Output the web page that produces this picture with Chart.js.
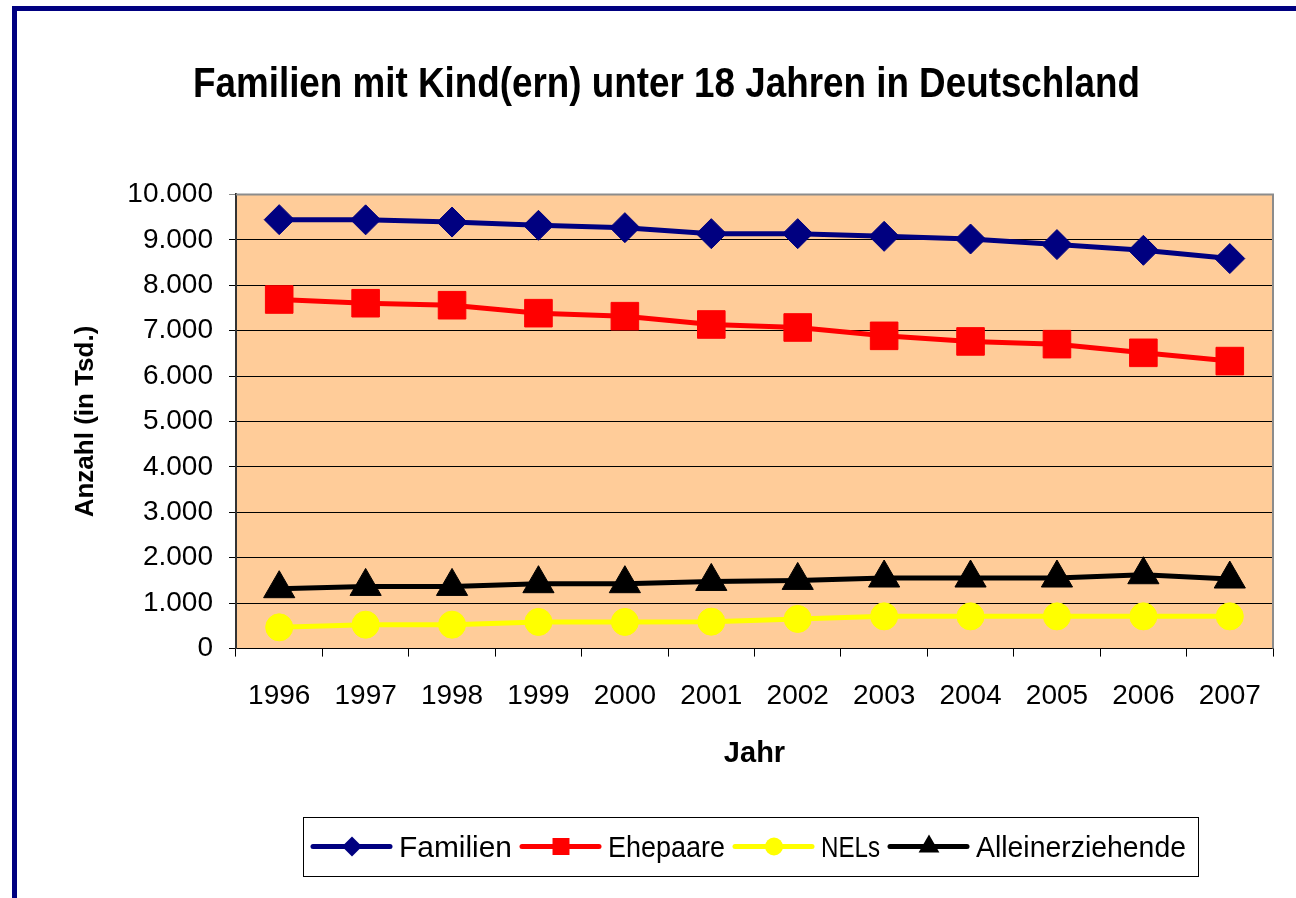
<!DOCTYPE html>
<html lang="de">
<head>
<meta charset="utf-8">
<title>Familien mit Kind(ern) unter 18 Jahren in Deutschland</title>
<script src="https://cdn.jsdelivr.net/npm/chart.js@4/dist/chart.umd.min.js"></script>
<style>
  html, body { margin: 0; padding: 0; background: #fff; overflow: hidden; }
  #frame {
    position: absolute; left: 12px; top: 6px;
    width: 1400px; height: 1000px;
    border: 5px solid #000080; box-sizing: border-box;
  }
  #chart { position: absolute; left: 0; top: 0; }
</style>
</head>
<body>
<div id="frame"></div>
<canvas id="chart" width="1296" height="898"></canvas>
<script>
'use strict';

// ── DATA (Tsd.) ──
const YEARS    = ['1996', '1997', '1998', '1999', '2000', '2001', '2002', '2003', '2004', '2005', '2006', '2007'];
const FAMILIEN = [9444, 9440, 9391, 9319, 9268, 9136, 9136, 9077, 9018, 8895, 8769, 8587];
const EHEPAARE = [7686, 7604, 7560, 7385, 7319, 7136, 7070, 6886, 6763, 6703, 6512, 6330];
const NELS     = [468, 527, 527, 587, 587, 593, 653, 710, 710, 710, 710, 710];
const ALLEIN   = [1319, 1369, 1369, 1429, 1429, 1479, 1501, 1554, 1554, 1554, 1626, 1532];

const Y_MIN  = 0;
const Y_MAX  = 10000;
const Y_STEP = 1000;

const TITLE   = 'Familien mit Kind(ern) unter 18 Jahren in Deutschland';
const X_TITLE = 'Jahr';
const Y_TITLE = 'Anzahl (in Tsd.)';

// ── STYLE ──
const FONT = "'Liberation Sans', Arial, sans-serif";
const PLOT_BG = '#FFCC99';

const SERIES = [
  { label: 'Familien',         data: FAMILIEN, color: '#000080', style: 'rectRot',  radius: 15,   legendR: 10 },
  { label: 'Ehepaare',         data: EHEPAARE, color: '#FF0000', style: 'rect',     radius: 19.5, legendR: 12 },
  { label: 'NELs',             data: NELS,     color: '#FFFF00', style: 'circle',   radius: 13.5, legendR: 9 },
  { label: 'Alleinerziehende', data: ALLEIN,   color: '#000000', style: 'triangle', radius: 18,   legendR: 12 },
];

// layout (pixels)
const TITLE_SPAN    = { left: 193, right: 1140 };   // title is squeezed into this width
const LEGEND_BOX    = { x: 303, y: 817, w: 895, h: 59 };
const LEGEND_ITEM_X = [311, 520, 733, 888];

function fmtThousand(v) {
  return String(v).replace(/\B(?=(\d{3})+(?!\d))/g, '.');
}

function drawMarker(ctx, style, x, y, r) {
  ctx.beginPath();
  if (style === 'rectRot') {
    ctx.moveTo(x, y - r); ctx.lineTo(x + r, y); ctx.lineTo(x, y + r); ctx.lineTo(x - r, y);
  } else if (style === 'rect') {
    const s = r * Math.SQRT1_2;
    ctx.rect(x - s, y - s, 2 * s, 2 * s);
  } else if (style === 'circle') {
    ctx.arc(x, y, r, 0, Math.PI * 2);
  } else if (style === 'triangle') {
    ctx.moveTo(x, y - r); ctx.lineTo(x + r * 0.866, y + r / 2); ctx.lineTo(x - r * 0.866, y + r / 2);
  }
  ctx.closePath();
  ctx.fill();
}

// ── PLUGINS ──
const plotFrame = {
  id: 'plotFrame',
  afterLayout(chart) {
    // narrow the title box so the (condensed) title fits the original width
    const t = chart.titleBlock;
    if (t) {
      t.left  = TITLE_SPAN.left;
      t.right = TITLE_SPAN.right;
      t.width = TITLE_SPAN.right - TITLE_SPAN.left;
    }
  },
  beforeDraw(chart) {
    const { ctx, chartArea: a } = chart;
    ctx.save();
    ctx.fillStyle = PLOT_BG;
    ctx.fillRect(a.left, a.top, a.right - a.left, a.bottom - a.top);
    ctx.restore();
  },
  beforeDatasetsDraw(chart) {
    const { ctx, chartArea: a } = chart;
    ctx.save();
    ctx.strokeStyle = '#8c8c8c';
    ctx.lineWidth = 2;
    ctx.beginPath();
    ctx.moveTo(a.left, a.top);
    ctx.lineTo(a.right, a.top);
    ctx.lineTo(a.right, a.bottom);
    ctx.stroke();
    ctx.restore();
  }
};

const boxLegend = {
  id: 'boxLegend',
  afterDraw(chart) {
    const ctx = chart.ctx;
    const b = LEGEND_BOX;
    const cy = b.y + b.h / 2;
    ctx.save();
    ctx.strokeStyle = '#000';
    ctx.lineWidth = 1;
    ctx.strokeRect(b.x + 0.5, b.y + 0.5, b.w, b.h);

    ctx.font = '30px ' + FONT;
    ctx.textBaseline = 'middle';
    ctx.textAlign = 'left';
    SERIES.forEach((s, i) => {
      const x = LEGEND_ITEM_X[i];
      const next = i + 1 < LEGEND_ITEM_X.length ? LEGEND_ITEM_X[i + 1] - 8 : b.x + b.w - 12;
      ctx.strokeStyle = s.color;
      ctx.fillStyle = s.color;
      ctx.lineWidth = 5;
      ctx.lineCap = 'round';
      ctx.beginPath();
      ctx.moveTo(x + 2, cy);
      ctx.lineTo(x + 79, cy);
      ctx.stroke();
      drawMarker(ctx, s.style, x + 41, cy, s.legendR);
      ctx.fillStyle = '#000';
      ctx.fillText(s.label, x + 88, cy + 2, next - (x + 88));
    });
    ctx.restore();
  }
};

// ── CHART ──
const ctx = document.getElementById('chart').getContext('2d');

new Chart(ctx, {
  type: 'line',
  data: {
    labels: YEARS,
    datasets: SERIES.map(s => ({
      label: s.label,
      data: s.data,
      borderColor: s.color,
      backgroundColor: s.color,
      borderWidth: 5,
      pointStyle: s.style,
      pointRadius: s.radius,
      pointHoverRadius: s.radius,
      pointBackgroundColor: s.color,
      pointBorderColor: s.color,
      pointBorderWidth: 1,
      tension: 0,
      fill: false,
    }))
  },
  options: {
    responsive: false,
    animation: false,
    devicePixelRatio: 1,
    layout: { padding: { left: 60, right: 23, top: 0, bottom: 127 } },
    plugins: {
      legend: { display: false },
      tooltip: { enabled: false },
      title: {
        display: true,
        text: TITLE,
        color: '#000',
        font: { family: FONT, size: 42, weight: 'bold' },
        padding: { top: 60, bottom: 84 },
      },
    },
    scales: {
      x: {
        offset: true,
        grid: { display: true, drawOnChartArea: false, drawTicks: true, tickLength: 8, offset: true, color: '#000', lineWidth: 1 },
        border: { display: true, color: '#000', width: 1 },
        ticks: { color: '#000', font: { family: FONT, size: 28 }, padding: 23, maxRotation: 0, autoSkip: false },
        title: {
          display: true, text: X_TITLE, color: '#000',
          font: { family: FONT, size: 29, weight: 'bold' },
          padding: { top: 0, bottom: 0 },
        },
      },
      y: {
        min: Y_MIN,
        max: Y_MAX,
        afterFit(scale) { scale.width = 176; },
        grid: {
          color: c => (c.tick && c.tick.value === Y_MAX ? '#8c8c8c' : '#000'),
          lineWidth: 1, tickLength: 7, drawTicks: true,
        },
        border: { display: true, color: '#333', width: 2 },
        ticks: {
          stepSize: Y_STEP, color: '#000', padding: 16,
          font: { family: FONT, size: 28 },
          callback: v => fmtThousand(v),
        },
        title: {
          display: true, text: Y_TITLE, color: '#000',
          font: { family: FONT, size: 26, weight: 'bold' },
          padding: { top: 10, bottom: 0 },
        },
      },
    },
  },
  plugins: [plotFrame, boxLegend],
});
</script>
</body>
</html>
